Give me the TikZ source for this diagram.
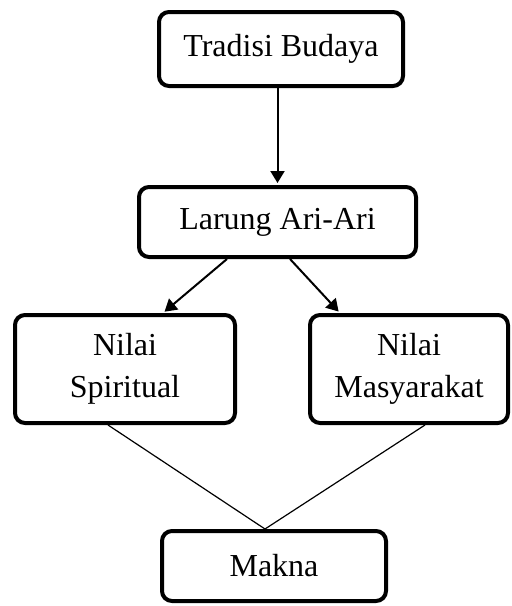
\documentclass[tikz,border=0pt]{standalone}
\usepackage{fontspec}
\setmainfont{Liberation Serif}
\usetikzlibrary{arrows.meta}

\begin{document}
\begin{tikzpicture}%
    [x = 0.5pt, y = -0.5pt,
     box/.style = {draw, rounded corners = 5pt, line width = 2pt, align = center,
                   inner sep = 0pt, font = \fontsize{16}{21}\selectfont},
     arr/.style = {-{Triangle[length=6pt, width=7pt]}, line width = 1pt, shorten > = 1pt}]
    \useasboundingbox (0,0) rectangle (511,606);

    \node[box, minimum width = 122pt, minimum height = 37pt] (tradisi) at (281,49) {Tradisi Budaya};
    \node[box, minimum width = 138.5pt, minimum height = 35pt] (larung) at (277.5,222) {Larung Ari-Ari};
    \node[box, minimum width = 110pt, minimum height = 54pt] (spiritual) at (125,369) {Nilai\\Spiritual};
    \node[box, minimum width = 99pt, minimum height = 54pt] (masyarakat) at (409,369) {Nilai\\Masyarakat};
    \node[box, minimum width = 112pt, minimum height = 35pt] (makna) at (274,566) {Makna};

    \draw [arr] (tradisi.south -| larung.north) -- (larung.north);
    \draw [arr] ([xshift=-25.25pt]larung.south) -- ([xshift=19pt]spiritual.north);
    \draw [arr] ([xshift=6.25pt]larung.south) -- ([xshift=-34.5pt]masyarakat.north);

    \coordinate (temu) at ([xshift=-4.5pt]makna.north);
    \draw [line width = 0.6pt] ([xshift=-8.5pt]spiritual.south) -- (temu);
    \draw [line width = 0.6pt] ([xshift=8pt]masyarakat.south) -- (temu);
\end{tikzpicture}
\end{document}
